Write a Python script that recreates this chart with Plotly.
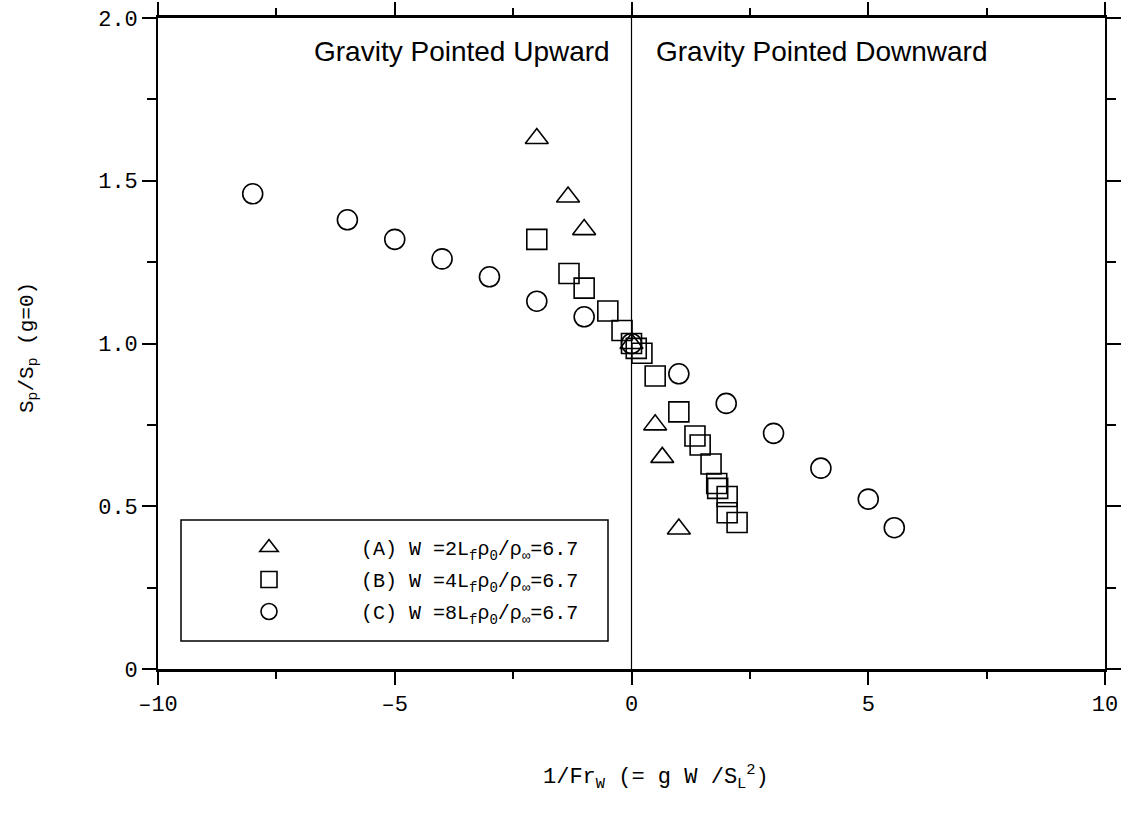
import plotly.graph_objects as go

# ---- data ----
xA = [-2.0, -1.34, -1.0, 0.0, 0.5, 0.65, 1.0]
yA = [1.63, 1.45, 1.35, 1.0, 0.75, 0.65, 0.43]

xB = [-2.0, -1.32, -1.0, -0.5, -0.2, 0.0, 0.1, 0.22, 0.5, 1.0, 1.34, 1.45, 1.68, 1.8, 1.82, 2.02, 2.02, 2.23]
yB = [1.32, 1.215, 1.17, 1.10, 1.04, 1.0, 0.985, 0.97, 0.90, 0.79, 0.716, 0.688, 0.63, 0.57, 0.555, 0.53, 0.48, 0.45]

xC = [-8.0, -6.0, -5.0, -4.0, -3.0, -2.0, -1.0, 0.0, 1.0, 2.0, 3.0, 4.0, 5.0, 5.55]
yC = [1.46, 1.38, 1.32, 1.26, 1.205, 1.13, 1.082, 1.0, 0.907, 0.816, 0.724, 0.617, 0.522, 0.434]

names = [
    "(A) W =2L<sub>f</sub>ρ<sub>0</sub>/ρ<sub>∞</sub>=6.7",
    "(B) W =4L<sub>f</sub>ρ<sub>0</sub>/ρ<sub>∞</sub>=6.7",
    "(C) W =8L<sub>f</sub>ρ<sub>0</sub>/ρ<sub>∞</sub>=6.7",
]

x_tickvals = [-10, -5, 0, 5, 10]
x_ticktext = ["\u201310", "\u20135", "0", "5", "10"]
y_tickvals = [0, 0.5, 1.0, 1.5, 2.0]
y_ticktext = ["0", "0.5", "1.0", "1.5", "2.0"]

MONO = "Liberation Mono, Cousine, DejaVu Sans Mono, monospace"
SANS = "Liberation Sans, Arial, sans-serif"
pad = "\u00a0" * 6

W, H = 1127, 814
L, R, T, B = 158, 22, 18, 145
pw, ph = W - L - R, H - T - B


def px(xp):
    return (xp - L) / pw


def py(yp):
    return (H - B - yp) / ph


fig = go.Figure()
for xs, ys, sym, nm, grp in [
    (xA, yA, "triangle-up-open", names[0], "a"),
    (xB, yB, "square-open", names[1], "b"),
    (xC, yC, "circle-open", names[2], "c"),
]:
    fig.add_trace(go.Scatter(
        x=xs, y=ys, mode="markers", name=pad + nm, legendgroup=grp,
        marker=dict(symbol=sym, size=20, color="black", line=dict(width=1.6, color="black")),
    ))

# vertical line at x = 0
fig.add_shape(type="line", x0=0, x1=0, y0=0, y1=2, xref="x", yref="y",
              line=dict(color="black", width=1.2))

# legend frame
fig.add_shape(type="rect", x0=px(181), x1=px(608), y0=py(641), y1=py(520),
              xref="paper", yref="paper", line=dict(color="black", width=1.5),
              fillcolor="rgba(0,0,0,0)")

fig.add_annotation(x=px(612), y=py(51), xref="paper", yref="paper", xanchor="right", yanchor="middle",
                   text="Gravity Pointed Upward", showarrow=False,
                   font=dict(family=SANS, size=28, color="black"))
fig.add_annotation(x=px(654), y=py(51), xref="paper", yref="paper", xanchor="left", yanchor="middle",
                   text="Gravity Pointed Downward", showarrow=False,
                   font=dict(family=SANS, size=28, color="black"))

# axis titles
fig.add_annotation(x=px(656), y=py(777), xref="paper", yref="paper", xanchor="center", yanchor="middle",
                   text="1/Fr<sub>W</sub> (= g W /S<sub>L</sub><sup>2</sup>)", showarrow=False,
                   font=dict(family=MONO, size=22, color="black"))
fig.add_annotation(x=px(28), y=py(348), xref="paper", yref="paper", xanchor="center", yanchor="middle",
                   text="S<sub>p</sub>/S<sub>p</sub> (g=0)", showarrow=False, textangle=-90,
                   font=dict(family=MONO, size=21, color="black"))

fig.update_layout(
    width=W, height=H,
    margin=dict(l=L, r=R, t=T, b=B, autoexpand=False),
    paper_bgcolor="white", plot_bgcolor="white",
    font=dict(family=MONO, size=20, color="black"),
    showlegend=True,
    legend=dict(
        x=px(181), y=py(528), xanchor="left", yanchor="top",
        borderwidth=0, bgcolor="rgba(0,0,0,0)",
        font=dict(family=MONO, size=20, color="black"),
        indentation=68, tracegroupgap=3, itemsizing="trace",
    ),
    xaxis=dict(
        range=[-10, 10], showgrid=False, zeroline=False,
        showline=True, linecolor="black", linewidth=2.5, mirror="allticks",
        ticks="outside", ticklen=13, tickwidth=1.6, tickcolor="black",
        tickvals=x_tickvals, ticktext=x_ticktext, tickfont=dict(family=MONO, size=22),
        minor=dict(ticks="outside", ticklen=7, tickwidth=1.6, tickcolor="black", dtick=2.5, tick0=0, showgrid=False),
    ),
    yaxis=dict(
        range=[0, 2], showgrid=False, zeroline=False,
        showline=True, linecolor="black", linewidth=1.6, mirror="allticks",
        ticks="outside", ticklen=14, tickwidth=1.6, tickcolor="black",
        tickvals=y_tickvals, ticktext=y_ticktext, tickfont=dict(family=MONO, size=22),
        minor=dict(ticks="outside", ticklen=9, tickwidth=1.6, tickcolor="black", dtick=0.25, tick0=0, showgrid=False),
    ),
)

fig.write_html("out.html")
